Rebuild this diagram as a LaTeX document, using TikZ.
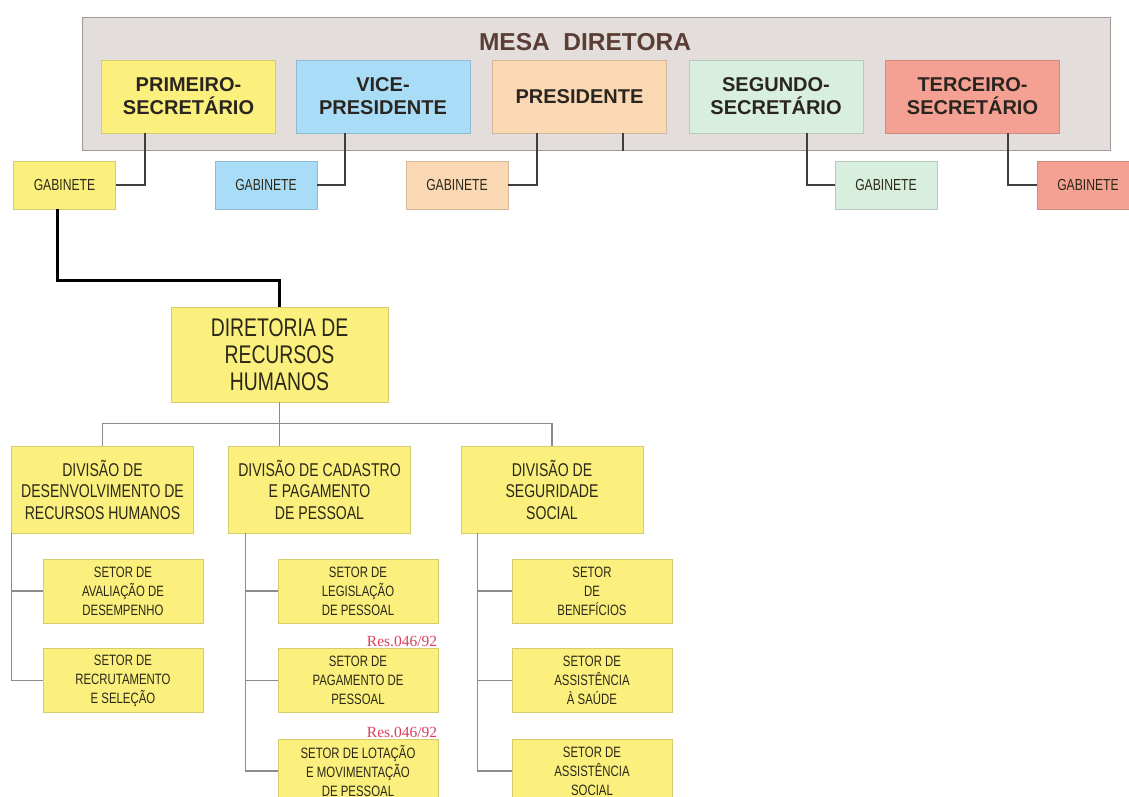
\documentclass[tikz,border=0pt]{standalone}
\usepackage{fontspec}
\setmainfont{Liberation Sans}[FakeStretch=0.76]
\newfontfamily\headfont{Liberation Sans}
\newfontfamily\resfont{Liberation Serif}

\definecolor{amarelo}{HTML}{FBF07E}
\definecolor{azul}{HTML}{A9DDF7}
\definecolor{pessego}{HTML}{FBD8B4}
\definecolor{verde}{HTML}{D8EEDF}
\definecolor{salmao}{HTML}{F4A193}
\definecolor{cinzamesa}{HTML}{E3DEDC}
\definecolor{bordamesa}{HTML}{9E9A98}
\definecolor{textomesa}{HTML}{5A3E36}
\definecolor{textotopo}{HTML}{2B2520}
\definecolor{textobox}{HTML}{2C2818}
\definecolor{linhaclara}{HTML}{8C8C8C}
\definecolor{linhaescura}{HTML}{3E3E3E}
\definecolor{vermelhores}{HTML}{D8405E}

\begin{document}
\begin{tikzpicture}[x=1pt, y=-1pt,
    box/.style={draw=#1!85!black, fill=#1, line width=0.6pt, align=center, inner sep=2pt, text=textobox},
    chefe/.style={box=#1, minimum width=174pt, minimum height=73pt,
      font=\headfont\bfseries\fontsize{20}{23}\selectfont, text=textotopo},
    gab/.style={box=#1, minimum width=102pt, minimum height=48pt, font=\fontsize{16}{18}\selectfont},
    diretoria/.style={box=amarelo, minimum width=217pt, minimum height=95pt, font=\fontsize{25.5}{27}\selectfont},
    divisao/.style={box=amarelo, minimum width=182pt, minimum height=87pt, font=\fontsize{18.5}{21.5}\selectfont},
    setor/.style={box=amarelo, minimum width=160pt, minimum height=64pt, font=\fontsize{15}{19}\selectfont},
    res/.style={anchor=south east, inner sep=1pt, text=vermelhores, font=\resfont\fontsize{15.5}{15.5}\selectfont},
    liga/.style={draw=linhaclara, line width=1.3pt},
    ligatopo/.style={draw=linhaescura, line width=1.6pt}]
  \useasboundingbox (0,0) rectangle (1129,796);

  % Mesa diretora
  \node[draw=bordamesa, fill=cinzamesa, line width=1pt, minimum width=1028pt, minimum height=133pt] (mesa) at (596,83.5) {};
  \node[font=\headfont\bfseries\fontsize{24.5}{26}\selectfont, text=textomesa] (titulo) at (585,42) {MESA\ \ DIRETORA};
  \node[chefe=amarelo] (prim) at (188.5,96.5) {PRIMEIRO-\\SECRETÁRIO};
  \node[chefe=azul] (vice) at (383,96.5) {VICE-\\PRESIDENTE};
  \node[chefe=pessego] (pres) at (579.5,96.5) {PRESIDENTE};
  \node[chefe=verde] (seg) at (776,96.5) {SEGUNDO-\\SECRETÁRIO};
  \node[chefe=salmao] (terc) at (972.5,96.5) {TERCEIRO-\\SECRETÁRIO};

  % Gabinetes
  \node[gab=amarelo] (gab1) at (64.5,185) {GABINETE};
  \node[gab=azul] (gab2) at (266,185) {GABINETE};
  \node[gab=pessego] (gab3) at (457,185) {GABINETE};
  \node[gab=verde] (gab4) at (886,185) {GABINETE};
  \node[gab=salmao] (gab5) at (1088,185) {GABINETE};

  \draw[ligatopo] ([xshift=-43.5pt]prim.south) |- (gab1.east);
  \draw[ligatopo] ([xshift=-38pt]vice.south) |- (gab2.east);
  \draw[ligatopo] ([xshift=-42.5pt]pres.south) |- (gab3.east);
  \draw[ligatopo] ([xshift=43.5pt]pres.south) -- ([xshift=43.5pt]pres.south |- mesa.south);
  \draw[ligatopo] ([xshift=31pt]seg.south) |- (gab4.west);
  \draw[ligatopo] ([xshift=35.5pt]terc.south) |- (gab5.west);

  % Diretoria e divisoes
  \node[diretoria] (drh) at (279.5,354.5) {DIRETORIA DE\\RECURSOS\\HUMANOS};
  \draw[line width=3pt, black] ([xshift=-7.5pt]gab1.south) |- ([yshift=26pt]drh.north) -- (drh.north);

  \node[divisao] (div1) at (102.5,489.5) {DIVISÃO DE\\DESENVOLVIMENTO DE\\RECURSOS HUMANOS};
  \node[divisao] (div2) at (319.5,489.5) {DIVISÃO DE CADASTRO\\E PAGAMENTO\\DE PESSOAL};
  \node[divisao] (div3) at (552,489.5) {DIVISÃO DE\\SEGURIDADE\\SOCIAL};
  \draw[liga] (drh.south) -- (drh.south |- div2.north);
  \draw[liga] (div1.north) |- ([yshift=22pt]div3.north) -- (div3.north);

  % Setores
  \node[setor] (s11) at (123,591) {SETOR DE\\AVALIAÇÃO DE\\DESEMPENHO};
  \node[setor] (s12) at (123,680.5) {SETOR DE\\RECRUTAMENTO\\E SELEÇÃO};
  \node[setor] (s21) at (358,591) {SETOR DE\\LEGISLAÇÃO\\DE PESSOAL};
  \node[setor] (s22) at (358,680.5) {SETOR DE\\PAGAMENTO DE\\PESSOAL};
  \node[setor] (s23) at (358,771) {SETOR DE LOTAÇÃO\\E MOVIMENTAÇÃO\\DE PESSOAL};
  \node[setor] (s31) at (592,591) {SETOR\\DE\\BENEFÍCIOS};
  \node[setor] (s32) at (592,680.5) {SETOR DE\\ASSISTÊNCIA\\À SAÚDE};
  \node[setor] (s33) at (592,771) {SETOR DE\\ASSISTÊNCIA\\SOCIAL};
  \node[res] (res1) at (s22.north east) {Res.046/92};
  \node[res] (res2) at (s23.north east) {Res.046/92};

  \draw[liga] (div1.south west) |- (s12.west);
  \draw[liga] (div1.south west |- s11.west) -- (s11.west);
  \draw[liga] ([xshift=17pt]div2.south west) |- (s23.west);
  \foreach \s in {s21,s22}
    \draw[liga] ([xshift=17pt]div2.south west |- \s.west) -- (\s.west);
  \draw[liga] ([xshift=17pt]div3.south west) |- (s33.west);
  \foreach \s in {s31,s32}
    \draw[liga] ([xshift=17pt]div3.south west |- \s.west) -- (\s.west);
\end{tikzpicture}
\end{document}
